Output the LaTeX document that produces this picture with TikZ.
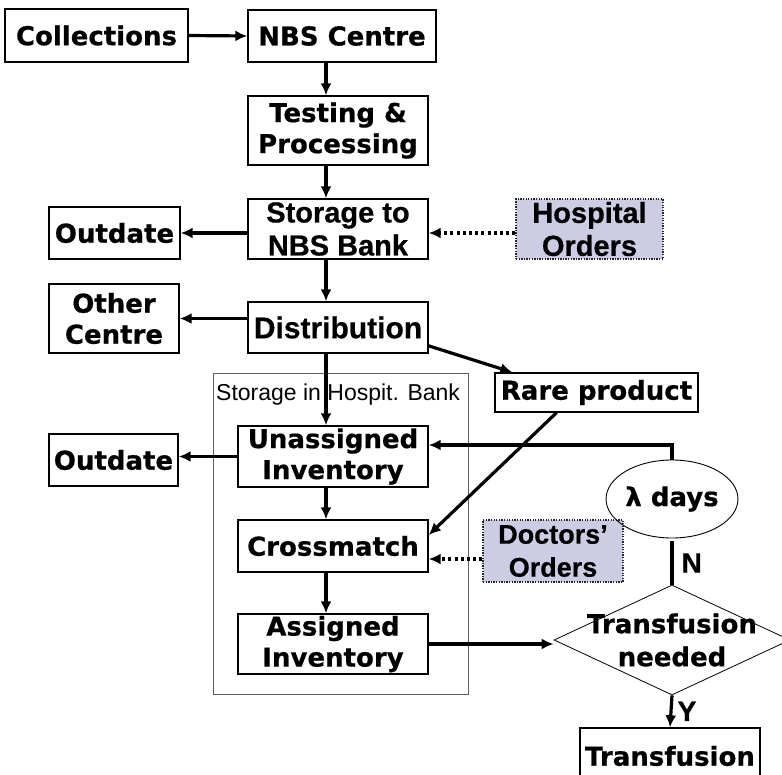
\documentclass[tikz,border=0pt]{standalone}
\usepackage{fontspec}
\setmainfont{DejaVu Sans}[BoldFeatures={FakeBold=0.6}]
\newfontfamily\arialfam{Liberation Sans}[BoldFeatures={FakeBold=0.6}]
\usetikzlibrary{arrows.meta,shapes.geometric,calc}
\definecolor{orderfill}{RGB}{204,205,228}
\definecolor{framegray}{RGB}{95,95,95}

\begin{document}
\begin{tikzpicture}[x=1pt,y=-1pt,
  box/.style={draw, line width=1.4pt, fill=white, inner sep=0pt, align=center,
    font=\fontsize{26}{31}\selectfont\bfseries},
  nbox/.style={box, font=\arialfam\fontsize{29}{33}\selectfont\bfseries},
  order/.style={nbox, fill=orderfill, draw=black!85, dash pattern=on 1.3pt off 1.3pt, line width=1.2pt},
  flow/.style={line width=3.2pt, -{Latex[length=12pt,width=11pt]}},
  dotflow/.style={flow, dash pattern=on 3pt off 3.2pt},
  plain/.style={line width=3.2pt},
  yn/.style={font=\arialfam\fontsize{28}{28}\selectfont\bfseries, inner sep=0pt}
]
% page frame
\useasboundingbox (0,0) rectangle (782,774);
\fill[white] (0,0) rectangle (782,774);

% hospital bank frame and its caption
\node[draw=framegray, line width=1pt, minimum width=255pt, minimum height=321pt, inner sep=0pt] (bank) at (340.5,533.5) {};
\node[anchor=west, inner sep=0pt, font=\arialfam\fontsize{23}{23}\selectfont] (banklabel) at (216,395) {Storage in Hospit. Bank};

% supply chain
\node[box, minimum width=183pt, minimum height=53pt] (coll) at (96.5,35.5) {Collections};
\node[box, minimum width=188pt, minimum height=52pt] (nbs) at (342,36) {NBS Centre};
\node[box, minimum width=180pt, minimum height=69pt] (test) at (338,130.5) {Testing \&\\Processing};
\node[nbox, minimum width=180pt, minimum height=60pt] (stor) at (338,229) {Storage to\\NBS Bank};
\node[box, minimum width=131pt, minimum height=52pt] (out1) at (114.5,233) {Outdate};
\node[order, minimum width=147pt, minimum height=60pt] (hosp) at (589.5,229) {Hospital\\Orders};
\node[box, minimum width=130pt, minimum height=69pt] (other) at (114,318.5) {Other\\Centre};
\node[nbox, font=\arialfam\fontsize{30}{34}\selectfont\bfseries, minimum width=180pt, minimum height=51pt] (dist) at (338,327.5) {Distribution};
\node[box, minimum width=203pt, minimum height=39pt] (rare) at (596.5,392.5) {Rare product};

% hospital side
\node[box, minimum width=190pt, minimum height=61pt] (unas) at (333,456.5) {Unassigned\\Inventory};
\node[box, minimum width=129pt, minimum height=52pt] (out2) at (113.5,460) {Outdate};
\node[box, minimum width=190pt, minimum height=52pt] (cross) at (333,546) {Crossmatch};
\node[order, font=\arialfam\fontsize{27}{33}\selectfont\bfseries, minimum width=140pt, minimum height=62pt] (doct) at (553,551) {Doctors’\\Orders};
\node[box, minimum width=190pt, minimum height=60pt] (assi) at (333,644) {Assigned\\Inventory};
\node[draw, ellipse, line width=0.9pt, minimum width=100pt, minimum height=78pt, inner sep=0pt,
  font=\fontsize{26}{31}\selectfont\bfseries] (lam) at (672,499) {λ days};
\node[diamond, draw, line width=0.8pt, minimum width=236pt, minimum height=110pt, inner sep=0pt] (diam) at (672,640) {};
\node[align=center, inner sep=0pt, font=\fontsize{26}{33}\selectfont\bfseries] (diamtext) at (diam.center) {Transfusion\\needed};
\node[box, minimum width=180pt, minimum height=56pt] (trans) at (670,756) {Transfusion};

% vertical spine
\coordinate (spine) at (326,0);

% connectors
\draw[flow] (coll.east) -- (nbs.west);
\draw[flow] (nbs.south -| spine) -- (test.north -| spine);
\draw[flow] (test.south -| spine) -- (stor.north -| spine);
\draw[flow] (stor.south -| spine) -- (dist.north -| spine);
\draw[flow] (stor.west |- out1.east) -- (out1.east);
\draw[dotflow] (hosp.west |- out1.east) -- (stor.east |- out1.east);
\draw[flow] (dist.west |- other.east) -- (other.east);
\draw[flow] ($(dist.east)!0.7!(dist.south east)$) -- ([xshift=18pt]rare.north west);
\draw[flow] (dist.south -| spine) -- (unas.north -| spine);
\draw[flow] (unas.west) -- (unas.west -| out2.east);
\draw[flow] (unas.south -| spine) -- (cross.north -| spine);
\draw[flow] (cross.south -| spine) -- (assi.north -| spine);
\draw[flow] ([xshift=-40pt]rare.south) -- ([yshift=11pt]cross.east);
\coordinate (dd) at ([yshift=-8pt]doct.west);
\draw[dotflow] (dd) -- (dd -| cross.east);
\draw[flow] (lam.north) |- ([yshift=11.5pt]unas.east);
\draw[plain] ([yshift=-3pt]lam.south) -- (diam.north) node[midway, right=8pt, yn] (nlab) {N};
\draw[flow] (assi.east) -- (assi.east -| diam.west);
\draw[flow] (diam.south) -- (trans.north) node[midway, right=5pt, yn] (ylab) {Y};
\end{tikzpicture}
\end{document}
